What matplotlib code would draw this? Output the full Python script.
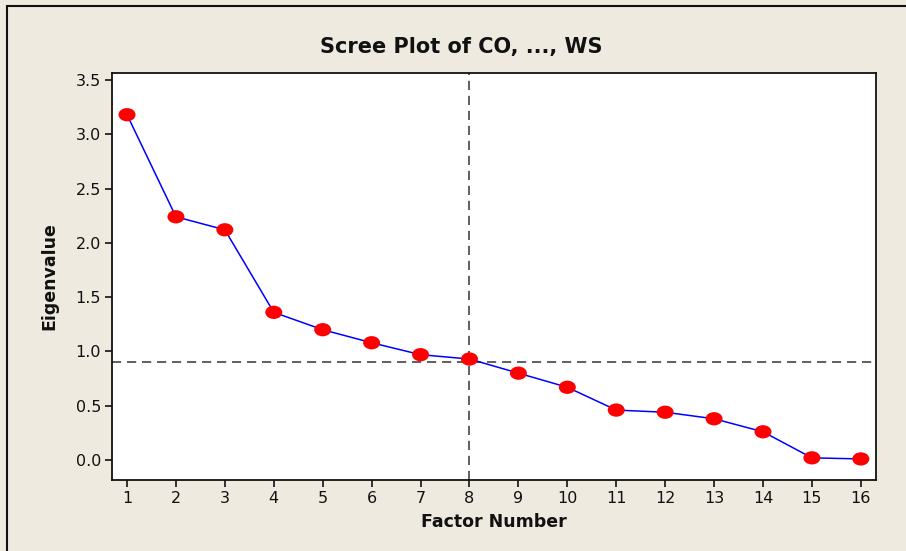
import matplotlib
matplotlib.use("Agg")
import matplotlib.pyplot as plt
from matplotlib.patches import Rectangle
from matplotlib.path import Path
from matplotlib.transforms import Affine2D

factors = list(range(1, 17))
eigenvalues = [3.18, 2.24, 2.12, 1.36, 1.20, 1.08, 0.97, 0.93,
               0.80, 0.67, 0.46, 0.44, 0.38, 0.26, 0.02, 0.01]
ref_x = 8
ref_y = 0.9
y_ticks = [0.0, 0.5, 1.0, 1.5, 2.0, 2.5, 3.0, 3.5]

bg = "#EEEAE0"
fig = plt.figure(figsize=(9.06, 5.51), dpi=100, facecolor=bg)
# outer frame (top and left visible)
fig.patches.append(Rectangle((7/906, -0.05), 1.1, 1 - 6/551 + 0.05,
                             transform=fig.transFigure, fill=False,
                             edgecolor="#111111", linewidth=1.5))

ellipse = Path.unit_circle().transformed(Affine2D().scale(1.0, 0.78))

ax = fig.add_axes([112/906, 1 - 480/551, (876-112)/906, (480-73)/551])
ax.set_facecolor("white")
ax.plot(factors, eigenvalues, color="#0000FF", linewidth=1.1, zorder=2)
ax.scatter(factors, eigenvalues, s=150, color="#FF0000", marker=ellipse,
           edgecolors="none", zorder=3)
ax.axvline(ref_x, color="#444444", linestyle=(0, (5.5, 3.5)), linewidth=1.2, zorder=1)
ax.axhline(ref_y, color="#444444", linestyle=(0, (5.5, 3.5)), linewidth=1.2, zorder=1)

ax.set_xlim(0.693, 16.31)
ax.set_ylim(-0.184, 3.564)
ax.set_xticks(factors)
ax.set_yticks(y_ticks)
ax.set_yticklabels([f"{v:.1f}" for v in y_ticks])
ax.tick_params(direction="out", length=5, width=1.2, labelsize=11.5,
               colors="#111111", pad=3)
ax.tick_params(top=False, right=False)
for s in ax.spines.values():
    s.set_linewidth(1.3)
    s.set_color("#111111")

fig.text(461/906, 1 - 47/551, "Scree Plot of CO, ..., WS", fontsize=15,
         fontweight="bold", ha="center", va="center", color="#111111")
ax.set_xlabel("Factor Number", fontsize=12.5, fontweight="bold", labelpad=5,
              color="#111111")
ax.set_ylabel("Eigenvalue", fontsize=12.5, fontweight="bold", labelpad=12,
              color="#111111")

fig.savefig("out.png", dpi=100, facecolor=bg)
